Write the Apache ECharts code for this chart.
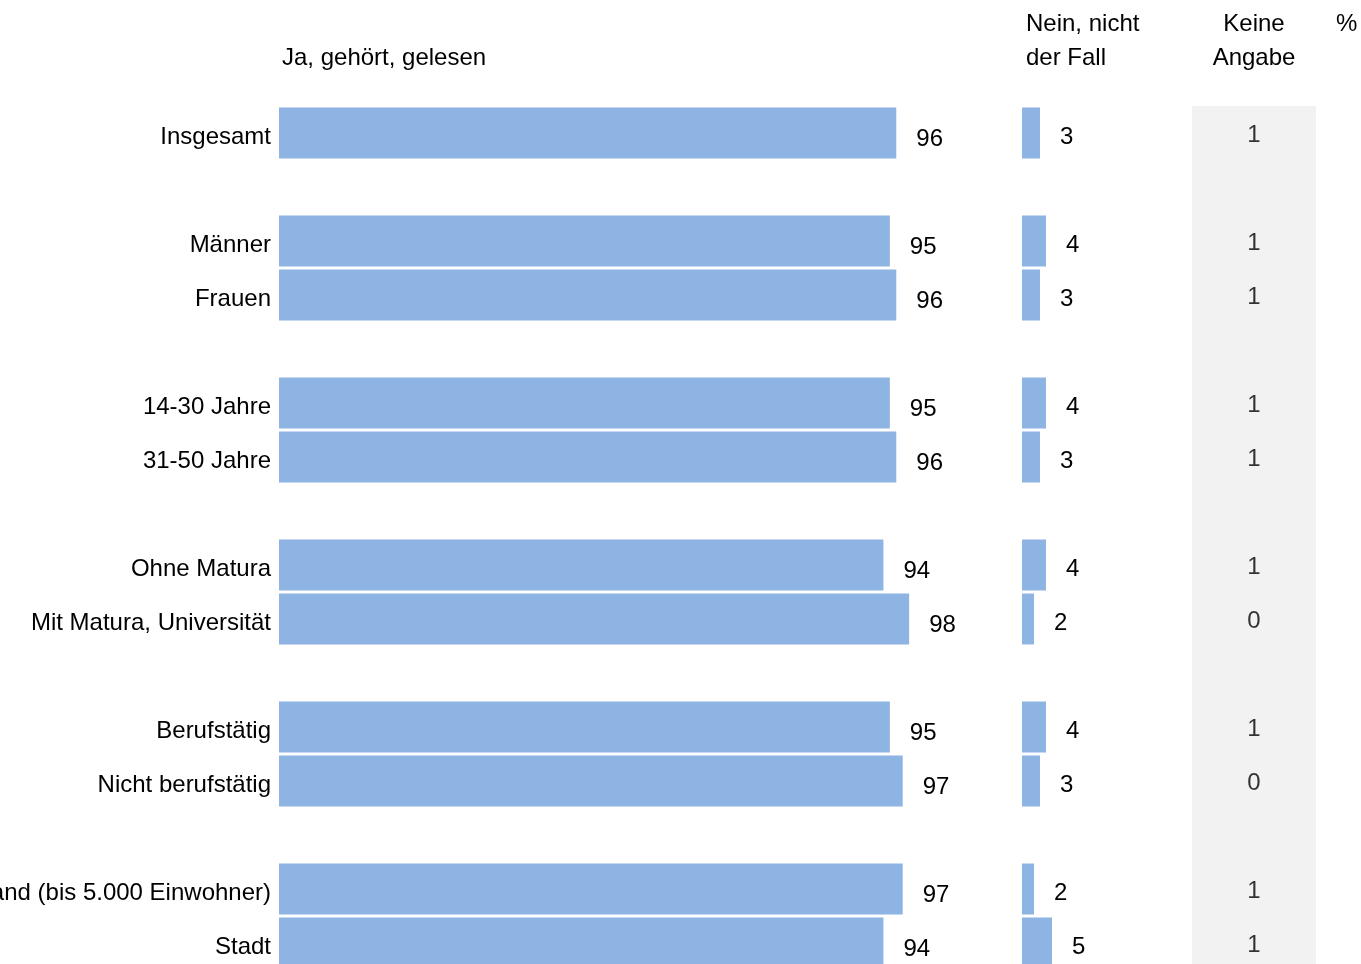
<!DOCTYPE html>
<html>
<head>
<meta charset="utf-8">
<script src="https://cdn.jsdelivr.net/npm/echarts@6/dist/echarts.min.js"></script>
<style>
html,body{margin:0;padding:0;background:#fff;}
#chart{width:1361px;height:964px;}
</style>
</head>
<body>
<div id="chart"></div>
<script>
// Rows (empty strings / nulls are spacer rows between groups)
const categories = ['Insgesamt', '', 'Männer', 'Frauen', '', '14-30 Jahre', '31-50 Jahre', '',
  'Ohne Matura', 'Mit Matura, Universität', '', 'Berufstätig', 'Nicht berufstätig', '',
  'Land (bis 5.000 Einwohner)', 'Stadt'];
const jaValues    = [96, null, 95, 96, null, 95, 96, null, 94, 98, null, 95, 97, null, 97, 94];
const neinValues  = [3, null, 4, 3, null, 4, 3, null, 4, 2, null, 4, 3, null, 2, 5];
const keineValues = [1, null, 1, 1, null, 1, 1, null, 1, 0, null, 1, 0, null, 1, 1];
const headers = {ja: 'Ja, gehört, gelesen', nein: 'Nein, nicht\nder Fall', keine: 'Keine\nAngabe', unit: '%'};

const FONT = '"Liberation Sans", Arial, sans-serif';
const FS = 24;
const BAR = '#8EB4E3';
const TOP = 106, H = 864;

const chart = echarts.init(document.getElementById('chart'));
const yBase = {
  type: 'category', data: categories, inverse: true,
  axisLine: {show: false}, axisTick: {show: false}, splitLine: {show: false}
};
const gridBase = {top: TOP, height: H, containLabel: false, outerBoundsMode: 'none'};
const option = {
  animation: false,
  backgroundColor: '#ffffff',
  grid: [
    Object.assign({left: 279, width: 643}, gridBase),
    Object.assign({left: 1022, width: 120}, gridBase),
    Object.assign({left: 1192, width: 124, show: true, backgroundColor: '#F2F2F2', borderWidth: 0}, gridBase)
  ],
  xAxis: [
    {gridIndex: 0, type: 'value', min: 0, max: 100, show: false},
    {gridIndex: 1, type: 'value', min: 0, max: 20, show: false},
    {gridIndex: 2, type: 'category', data: ['Keine Angabe'], show: false}
  ],
  yAxis: [
    Object.assign({gridIndex: 0, axisLabel: {show: true, color: '#000', fontFamily: FONT, fontSize: FS, margin: 8,
      formatter: v => '{c|' + v + '}',
      rich: {c: {color: '#000', fontFamily: FONT, fontSize: FS, padding: [8, 0, 0, 0]}}}}, yBase),
    Object.assign({gridIndex: 1, axisLabel: {show: false}}, yBase),
    Object.assign({gridIndex: 2, axisLabel: {show: false}}, yBase)
  ],
  series: [
    {
      type: 'bar', xAxisIndex: 0, yAxisIndex: 0, data: jaValues, barWidth: 51,
      itemStyle: {color: BAR},
      label: {show: true, position: 'right', distance: 20, color: '#000', fontFamily: FONT, fontSize: FS, offset: [0, 6]}
    },
    {
      type: 'bar', xAxisIndex: 1, yAxisIndex: 1, data: neinValues, barWidth: 51,
      itemStyle: {color: BAR},
      label: {show: true, position: 'right', distance: 20, color: '#000', fontFamily: FONT, fontSize: FS, offset: [0, 4]}
    },
    {
      type: 'scatter', xAxisIndex: 2, yAxisIndex: 2, symbolSize: 0,
      data: keineValues.map((v, i) => v == null ? null : ['Keine Angabe', i, v]),
      label: {show: true, position: 'inside', color: '#000', fontFamily: FONT, fontSize: FS, offset: [0, 2],
        formatter: p => String(p.value[2])}
    }
  ],
  graphic: [
    {type: 'text', x: 282, y: 58, style: {text: headers.ja, font: FS + 'px ' + FONT, fill: '#000', verticalAlign: 'middle'}},
    {type: 'text', x: 1026, y: 41, style: {text: headers.nein, font: FS + 'px ' + FONT, fill: '#000', lineHeight: 34, verticalAlign: 'middle'}},
    {type: 'text', x: 1254, y: 41, style: {text: headers.keine, font: FS + 'px ' + FONT, fill: '#000', align: 'center', lineHeight: 34, verticalAlign: 'middle'}},
    {type: 'text', x: 1336, y: 24, style: {text: headers.unit, font: FS + 'px ' + FONT, fill: '#000', verticalAlign: 'middle'}}
  ]
};
chart.setOption(option);
</script>
</body>
</html>
